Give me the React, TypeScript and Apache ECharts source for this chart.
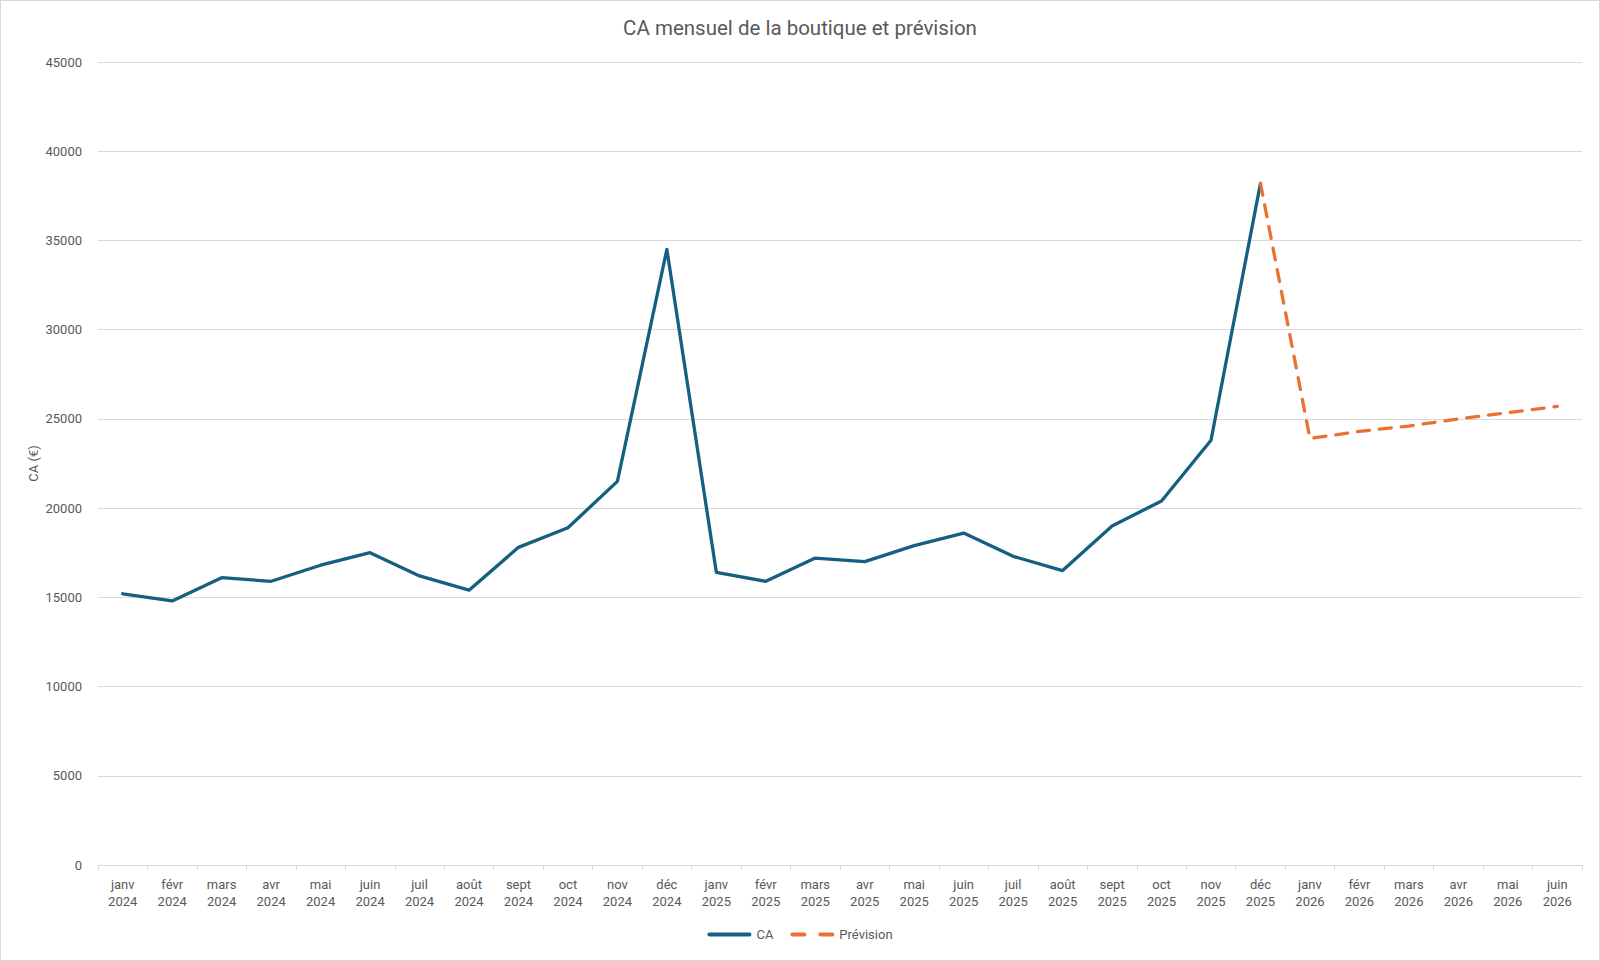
import React from "react";
import * as echarts from "echarts";

const categories = [
    "janv 2024", "févr 2024", "mars 2024", "avr 2024", "mai 2024", "juin 2024",
    "juil 2024", "août 2024", "sept 2024", "oct 2024", "nov 2024", "déc 2024",
    "janv 2025", "févr 2025", "mars 2025", "avr 2025", "mai 2025", "juin 2025",
    "juil 2025", "août 2025", "sept 2025", "oct 2025", "nov 2025", "déc 2025",
    "janv 2026", "févr 2026", "mars 2026", "avr 2026", "mai 2026", "juin 2026",
];

const caValues = [
    15200, 14800, 16100, 15900, 16800, 17500, 16200, 15400, 17800, 18900, 21500, 34500,
    16400, 15900, 17200, 17000, 17900, 18600, 17300, 16500, 19000, 20400, 23800, 38200,
    null, null, null, null, null, null,
];

const previsionValues = [
    null, null, null, null, null, null, null, null, null, null, null, null,
    null, null, null, null, null, null, null, null, null, null, null, 38200,
    23900, 24300, 24600, 25000, 25350, 25700,
];

const yTicks = [0, 5000, 10000, 15000, 20000, 25000, 30000, 35000, 40000, 45000];

const TEXT = "#595959";
const FONT = "Roboto";
const BLUE = "#156082";
const ORANGE = "#E97132";

// legend icons: solid bar / two rounded dashes
const solidIcon = "path://M2,0H42A2,2 0 0 1 42,4H2A2,2 0 0 1 2,0Z";
const dashIcon =
    "path://M2,0H14A2,2 0 0 1 14,4H2A2,2 0 0 1 2,0Z M30,0H42A2,2 0 0 1 42,4H30A2,2 0 0 1 30,0Z";

const App: React.FC = () => {
    const chartRef = React.useRef<HTMLDivElement>(null);

    React.useEffect(() => {
        if (!chartRef.current) return;
        const chart = echarts.init(chartRef.current, undefined, { renderer: "svg" });

        const option = {
            animation: false,
            textStyle: { fontFamily: FONT },
            title: {
                text: "CA mensuel de la boutique et prévision",
                left: "center",
                top: 11,
                textStyle: {
                    color: TEXT,
                    fontSize: 20.5,
                    fontWeight: "normal",
                    fontFamily: FONT,
                },
            },
            legend: {
                bottom: 14,
                left: "center",
                itemWidth: 44,
                itemHeight: 4,
                itemGap: 17,
                textStyle: { color: TEXT, fontSize: 13, fontFamily: FONT },
                data: [
                    { name: "CA", icon: solidIcon, itemStyle: { color: BLUE } },
                    { name: "Prévision", icon: dashIcon, itemStyle: { color: ORANGE } },
                ],
            },
            grid: {
                left: 97,
                right: 17,
                top: 61,
                bottom: 95,
                containLabel: false,
            },
            xAxis: {
                type: "category",
                data: categories,
                boundaryGap: true,
                axisLine: { lineStyle: { color: "#d9d9d9", width: 1 } },
                axisTick: {
                    show: true,
                    alignWithLabel: false,
                    length: 5,
                    lineStyle: { color: "#d9d9d9" },
                },
                axisLabel: {
                    interval: 0,
                    color: TEXT,
                    fontSize: 13,
                    fontFamily: FONT,
                    lineHeight: 17,
                    margin: 11,
                    formatter: (v: string) => v.replace(" ", "\n"),
                },
            },
            yAxis: {
                type: "value",
                min: yTicks[0],
                max: yTicks[yTicks.length - 1],
                interval: yTicks[1] - yTicks[0],
                name: "CA (€)",
                nameLocation: "middle",
                nameRotate: 90,
                nameGap: 58,
                nameMoveOverlap: false,
                nameTextStyle: { color: TEXT, fontSize: 13, fontFamily: FONT },
                axisLine: { show: false },
                axisTick: { show: false },
                axisLabel: {
                    color: TEXT,
                    fontSize: 13,
                    fontFamily: FONT,
                    margin: 16,
                    formatter: (v: number) => String(v),
                },
                splitLine: { lineStyle: { color: "#d9d9d9", width: 1 } },
            },
            series: [
                {
                    name: "CA",
                    type: "line",
                    data: caValues,
                    showSymbol: false,
                    symbol: "none",
                    lineStyle: { color: BLUE, width: 3.3, cap: "round", join: "round" },
                    itemStyle: { color: BLUE },
                },
                {
                    name: "Prévision",
                    type: "line",
                    data: previsionValues,
                    showSymbol: false,
                    symbol: "none",
                    lineStyle: {
                        color: ORANGE,
                        width: 3.3,
                        type: [12, 10],
                        cap: "round",
                        join: "round",
                    },
                    itemStyle: { color: ORANGE },
                },
            ],
        };

        chart.setOption(option as any);

        return () => {
            chart.dispose();
        };
    }, []);

    return (
        <div
            style={{
                position: "fixed",
                top: 0,
                left: 0,
                width: 1600,
                height: 961,
                boxSizing: "border-box",
                border: "1px solid #d9d9d9",
                background: "#fff",
            }}
        >
            <div ref={chartRef} style={{ width: 1598, height: 959 }} />
        </div>
    );
};

export default App;
